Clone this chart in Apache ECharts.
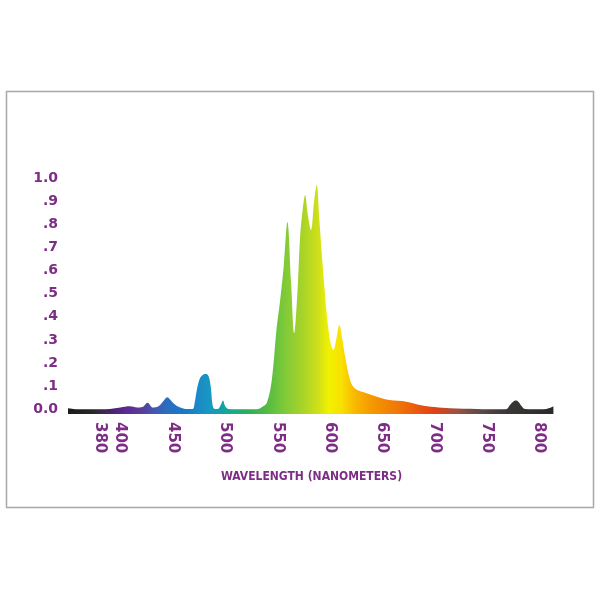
<!DOCTYPE html>
<html>
<head>
<meta charset="utf-8">
<script src="https://cdn.jsdelivr.net/npm/echarts@6/dist/echarts.min.js"></script>
<style>html,body{margin:0;padding:0;background:#fff}#c{width:600px;height:600px}</style>
</head>
<body>
<div id="c"></div>
<script>
// Data
var wavelengths = [350,360,372,381,390,400,409,416,421,426,431,436,441,444.6,450,455,462,469,471,473,476,479,482,484.5,486.5,488,490,493,496,498,500,503,510,530,536,540,544.6,549,552.5,556,559.5,563,566,569,571.6,574,576.4,579,582,585,587.5,590,592.3,595,597.6,601,603.4,606,609,612,614.6,618,622,628,635,645,657,673,686,700,715,740,765,769,772,775,777.6,780,783,786.5,800,807,813.5];
var intensity   = [0.005,0,0,0,0.002,0.008,0.013,0.008,0.01,0.029,0.008,0.012,0.035,0.052,0.03,0.012,0.002,0.002,0.03,0.084,0.134,0.15,0.153,0.14,0.09,0.02,0.002,0.002,0.02,0.038,0.015,0.002,0,0,0.012,0.03,0.127,0.343,0.47,0.62,0.81,0.55,0.329,0.5,0.746,0.86,0.927,0.84,0.775,0.9,0.97,0.82,0.675,0.52,0.386,0.28,0.257,0.3,0.365,0.3,0.228,0.15,0.1,0.08,0.07,0.055,0.04,0.033,0.019,0.01,0.005,0.002,0,0.002,0.019,0.033,0.038,0.033,0.015,0.002,0,0.002,0.012];
var xTicks = [380,400,450,500,550,600,650,700,750,800];
var yTicks = [0,0.1,0.2,0.3,0.4,0.5,0.6,0.7,0.8,0.9,1.0];
var axisName = 'WAVELENGTH (NANOMETERS)';

// Spectrum colours (style)
var spectrumStops = [
  [350,'#1c1c1c'],[372,'#262626'],[382,'#3a2846'],[392,'#4a2272'],[405,'#5a2a90'],[420,'#5a3c98'],
  [432,'#4756ac'],[445,'#2a6ec0'],[460,'#1878c8'],[475,'#1a8ac8'],[486,'#1898c0'],[496,'#13a0a8'],
  [506,'#18a890'],[522,'#2cae5a'],[540,'#52ba44'],[555,'#78c83a'],[575,'#a8d428'],[590,'#d0e018'],
  [600,'#f2f200'],[612,'#f8e000'],[625,'#f8b800'],[640,'#f59a00'],[665,'#f07808'],[690,'#e85010'],
  [702,'#dc4218'],[722,'#a05040'],[745,'#5a4a48'],[770,'#3a3636'],[815,'#2a2a2a']
];
var xMin = 350, xMax = 815;
var purple = '#7d2d85';

var data = wavelengths.map(function(w,i){return [w,intensity[i]];});
var stops = spectrumStops.map(function(s){return {offset:(s[0]-xMin)/(xMax-xMin), color:s[1]};});

var chart = echarts.init(document.getElementById('c'), null, {renderer:'canvas'});
chart.setOption({
  animation:false,
  backgroundColor:'#fff',
  graphic:[{type:'rect', shape:{x:6.5,y:91.5,width:587,height:416}, style:{fill:'none', stroke:'#a8a8a8', lineWidth:1.5}, z:-1}],
  grid:{left:68, right:45, top:178, bottom:186},
  xAxis:{
    type:'value', min:xMin, max:xMax,
    axisLine:{show:false}, axisTick:{show:false}, splitLine:{show:false},
    axisLabel:{customValues:xTicks, rotate:-90, margin:8, color:purple, fontFamily:'DejaVu Sans', fontWeight:'bold', fontSize:15,
      formatter:function(v){return String(v);}},
    name:axisName, nameLocation:'middle', nameGap:57,
    nameTextStyle:{color:purple, fontFamily:'DejaVu Sans Condensed', fontWeight:'bold', fontSize:12}
  },
  yAxis:{
    type:'value', min:-0.02, max:1.0,
    axisLine:{show:false}, axisTick:{show:false}, splitLine:{show:false},
    axisLabel:{customValues:yTicks, margin:10, color:purple, fontFamily:'DejaVu Sans', fontWeight:'bold', fontSize:14,
      formatter:function(v){ if(v===0) return '0.0'; if(v>=1) return '1.0'; return v.toFixed(1).replace(/^0/,''); }}
  },
  series:[{
    type:'line', data:data, symbol:'none', smooth:0.35,
    lineStyle:{width:0},
    areaStyle:{origin:'start', opacity:1, color:new echarts.graphic.LinearGradient(0,0,1,0,stops)}
  }]
});
</script>
</body>
</html>
